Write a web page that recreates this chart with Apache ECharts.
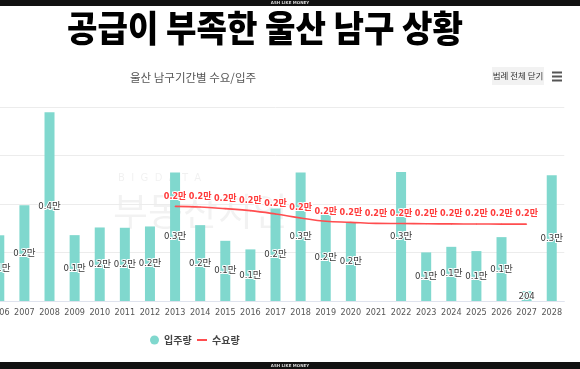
<!DOCTYPE html>
<html>
<head>
<meta charset="utf-8">
<script src="https://cdn.jsdelivr.net/npm/echarts@6/dist/echarts.min.js"></script>
<style>
html,body{margin:0;padding:0;background:#fff;overflow:hidden;width:580px;height:369px;}
#chart{width:594px;height:369px;margin-left:-14px;}
</style>
</head>
<body>
<div id="chart"></div>
<script>
const years = ['2006','2007','2008','2009','2010','2011','2012','2013','2014','2015','2016','2017','2018','2019','2020','2021','2022','2023','2024','2025','2026','2027','2028'];
const supply = [1355,1975,3890,1358,1516,1510,1537,2648,1564,1241,1064,1907,2648,1784,1611,null,2660,1002,1117,1029,1317,204,2593];
const demand = [null,null,null,null,null,null,null,1951,1938,1904,1863,1794,1712,1643,1622,1600,1597,1592,1590,1588,1586,1585,null];
const yTicks = [0,1000,2000,3000,4000];

const OX = 14; // horizontal offset of the canvas (chart div is shifted left)
const NARROW = '"Liberation Sans Narrow","DejaVu Sans Condensed","Noto Sans CJK KR",sans-serif';
const KR = '"Noto Sans CJK KR","Noto Sans",sans-serif';

function fmt(v){
  if (v == null) return '';
  return v >= 1000 ? (v/10000).toFixed(1) + '만' : String(v);
}

const chart = echarts.init(document.getElementById('chart'), null, {renderer:'canvas'});
chart.setOption({
  animation:false,
  backgroundColor:'#fff',
  title:{
    text:'울산 남구기간별 수요/입주',
    left:125+OX, top:67,
    textStyle:{fontFamily:KR, fontSize:11.5, fontWeight:'normal', color:'#555'}
  },
  legend:[
    {data:[{name:'입주량', icon:'circle'}], left:150+OX, top:335, padding:0, itemWidth:9, itemHeight:9,
     textStyle:{fontFamily:KR, fontSize:10, color:'#444', fontWeight:'bold'}},
    {data:[{name:'수요량', icon:'rect'}], left:197+OX, top:335, padding:0, itemWidth:10, itemHeight:2,
     textStyle:{fontFamily:KR, fontSize:10, color:'#444', fontWeight:'bold'}}
  ],
  grid:{left:0.3, right:15.7, top:107, bottom:68, containLabel:false},
  xAxis:{
    type:'category', data:years,
    axisLine:{lineStyle:{color:'#dfe3ee'}},
    axisTick:{show:false},
    axisLabel:{fontFamily:NARROW, fontSize:9, color:'#555', margin:7, interval:0}
  },
  yAxis:{
    type:'value', min:yTicks[0], max:yTicks[yTicks.length-1], interval:1000,
    axisLabel:{show:false}, axisLine:{show:false}, axisTick:{show:false},
    splitLine:{lineStyle:{color:'#ececec'}}
  },
  graphic:[
    {type:'rect', shape:{x:0,y:0,width:594,height:6}, style:{fill:'#111'}, z:100},
    {type:'text', x:290+OX, y:3, style:{text:'ASH LIKE MONEY', fill:'#ddd', fontSize:4, fontWeight:'bold', align:'center', verticalAlign:'middle', fontFamily:'"DejaVu Sans",sans-serif'}, z:101},
    {type:'rect', shape:{x:0,y:362,width:594,height:7}, style:{fill:'#111'}, z:100},
    {type:'text', x:290+OX, y:365.5, style:{text:'ASH LIKE MONEY', fill:'#ddd', fontSize:4, fontWeight:'bold', align:'center', verticalAlign:'middle', fontFamily:'"DejaVu Sans",sans-serif'}, z:101},
    {type:'text', x:265+OX, y:28, scaleX:0.92, style:{text:'공급이 부족한 울산 남구 상황', fill:'#000', fontSize:36, fontWeight:900, align:'center', verticalAlign:'middle', fontFamily:KR}, z:100},
    {type:'text', x:118+OX, y:178, z:-1, style:{text:'B  I  G  D  A  T  A', fill:'rgba(0,0,0,0.06)', fontSize:10, align:'left', verticalAlign:'middle', fontFamily:'"DejaVu Sans",sans-serif'}},
    {type:'text', x:113+OX, y:211, z:-1, style:{text:'부동산지인', fill:'rgba(0,0,0,0.05)', fontSize:38, align:'left', verticalAlign:'middle', fontFamily:KR}},
    {type:'rect', shape:{x:492+OX,y:67,width:52,height:18}, style:{fill:'#f2f2f2'}, z:100},
    {type:'text', x:518+OX, y:76, style:{text:'범례 전체 닫기', fill:'#333', fontSize:8.5, align:'center', verticalAlign:'middle', fontFamily:KR}, z:101},
    {type:'rect', shape:{x:552+OX,y:71.5,width:10,height:2}, style:{fill:'#555'}, z:100},
    {type:'rect', shape:{x:552+OX,y:75.5,width:10,height:2}, style:{fill:'#555'}, z:100},
    {type:'rect', shape:{x:552+OX,y:79.5,width:10,height:2}, style:{fill:'#555'}, z:100}
  ],
  series:[
    {
      name:'입주량', type:'bar', data:supply, barWidth:10,
      itemStyle:{color:'#80d8ce'},
      label:{show:true, position:'inside', formatter:p=>fmt(p.value),
        fontFamily:NARROW, fontSize:9.5, color:'#3a3a3a', textBorderColor:'#fff', textBorderWidth:2}
    },
    {
      name:'수요량', type:'line', data:demand, smooth:0.4, z:5,
      color:'#ff4d4f',
      symbol:'circle', symbolSize:1, showSymbol:true,
      itemStyle:{color:'#ff4d4f'},
      lineStyle:{color:'#ff4d4f', width:1.6},
      label:{show:true, position:'top', distance:5, formatter:p=>fmt(p.value),
        fontFamily:NARROW, fontSize:9, fontWeight:'bold', color:'#ff3b3b', textBorderColor:'#fff', textBorderWidth:2}
    }
  ]
});
</script>
</body>
</html>
